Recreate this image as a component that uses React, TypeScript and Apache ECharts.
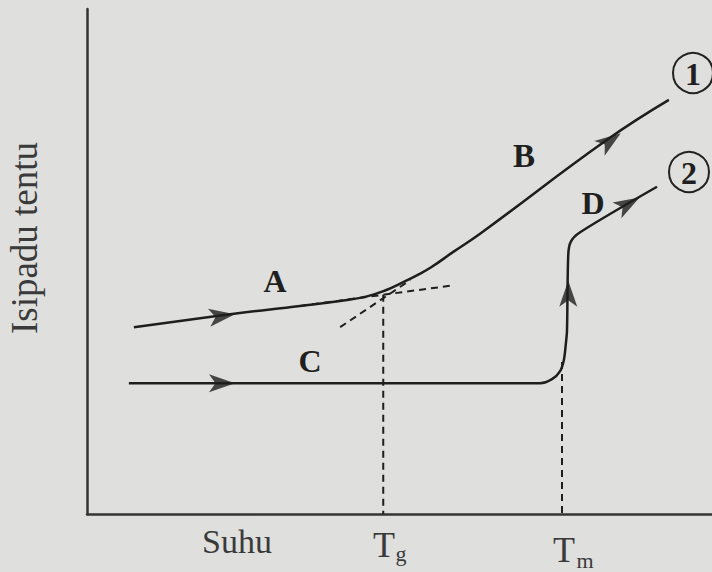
import React, { useEffect, useRef } from "react";
import * as echarts from "echarts";

// Curve 1: A (glass) -> B (rubbery/liquid), amorphous path
const curveAB: number[][] = [
  [7.5, 37.0], [23.2, 39.6], [34.1, 41.2], [40.5, 42.2], [44.8, 43.1],
  [47.8, 44.3], [50.6, 45.9], [53.0, 47.4], [55.0, 48.8], [58.6, 51.9],
  [63.0, 55.6], [83.2, 74.1], [93.1, 82.0],
];
// Curve 2: C (crystalline) -> melting -> D (liquid)
const curveCD: number[][] = [
  [6.7, 25.9], [72.5, 25.9], [74.4, 26.7], [75.7, 28.3], [76.3, 30.5],
  [76.6, 33.5], [76.8, 36.4], [77.0, 51.3], [77.4, 53.9], [78.9, 55.8],
  [91.2, 64.8],
];
// Dashed tangent extensions meeting at Tg
const tangentA: number[][] = [[34.1, 41.2], [58.7, 45.3]];
const tangentB: number[][] = [[40.5, 37.0], [51.7, 46.3]];
// Dashed drops to the temperature axis
const tgDrop: number[][] = [[47.4, 43.4], [47.4, 0]];
const tmDrop: number[][] = [[76.0, 30.1], [76.0, 0]];
// Arrow heads along the curves
const arrowPos: number[][] = [[21.6, 39.2], [83.7, 73.9], [21.6, 25.9], [77.0, 43.6], [86.6, 61.4]];
const arrowAngle: number[] = [7.6, 35, 0, 90, 29.5];

const segmentLabels = ["A", "B", "C", "D"];
const pathLabels = ["1", "2"];
const yAxisTitle = "Isipadu tentu";
const xAxisTitle = "Suhu";
const tickMain = ["T", "T"];
const tickSub = ["g", "m"];

const INK = "#1e1e1e";
const SERIF = "'Liberation Serif', 'DejaVu Serif', serif";

function txt(x: number, y: number, text: string, size: number, bold: boolean, fill: string, extra: any = {}) {
  return {
    type: "text",
    x,
    y,
    silent: true,
    ...extra,
    style: {
      text,
      font: `${bold ? "bold " : ""}${size}px ${SERIF}`,
      fill,
      align: "center",
      verticalAlign: "middle",
      textAlign: "center",
      textVerticalAlign: "middle",
    },
  };
}

export default function App() {
  const ref = useRef<HTMLDivElement>(null);
  useEffect(() => {
    if (!ref.current) return;
    const chart = echarts.init(ref.current, undefined, { renderer: "svg" });
    const arrowPath = "path://M0,0 L24,8 L0,16 L6,8 Z";
    const dashed = { color: INK, width: 2, type: [7, 5] as any };
    const option: any = {
      animation: false,
      backgroundColor: "#dfdfdd",
      grid: { left: 87, right: 0, top: 9, bottom: 58 },
      xAxis: {
        type: "value", min: 0, max: 100,
        axisLine: { show: true, lineStyle: { color: "#353535", width: 2.5 } },
        axisTick: { show: false }, axisLabel: { show: false }, splitLine: { show: false },
      },
      yAxis: {
        type: "value", min: 0, max: 100,
        axisLine: { show: true, lineStyle: { color: "#353535", width: 2.5 } },
        axisTick: { show: false }, axisLabel: { show: false }, splitLine: { show: false },
      },
      series: [
        { type: "line", data: curveAB, smooth: 0.45, showSymbol: false, lineStyle: { color: INK, width: 2.5 } },
        { type: "line", data: curveCD, smooth: 0.3, showSymbol: false, lineStyle: { color: INK, width: 2.5 } },
        { type: "line", data: tangentA, showSymbol: false, lineStyle: dashed },
        { type: "line", data: tangentB, showSymbol: false, lineStyle: dashed },
        { type: "line", data: tgDrop, showSymbol: false, lineStyle: dashed },
        { type: "line", data: tmDrop, showSymbol: false, lineStyle: dashed },
        {
          type: "scatter",
          symbol: arrowPath,
          symbolSize: [26, 18],
          itemStyle: { color: INK },
          data: arrowPos.map((p, i) => ({ value: p, symbolRotate: arrowAngle[i] })),
        },
      ],
      graphic: [
        txt(275, 281, segmentLabels[0], 32, true, "#1f1f1f"),
        txt(524, 156, segmentLabels[1], 33, true, "#1f1f1f"),
        txt(310, 361, segmentLabels[2], 32, true, "#1f1f1f"),
        txt(593, 203, segmentLabels[3], 32, true, "#1f1f1f"),
        { type: "circle", shape: { cx: 693, cy: 73, r: 20 }, style: { fill: "none", stroke: "#222", lineWidth: 2 } },
        { type: "circle", shape: { cx: 689, cy: 172, r: 20 }, style: { fill: "none", stroke: "#222", lineWidth: 2 } },
        txt(693, 74, pathLabels[0], 32, true, "#1f1f1f"),
        txt(689, 173, pathLabels[1], 32, true, "#1f1f1f"),
        txt(24, 238, yAxisTitle, 37, false, "#3a3a3a", { rotation: Math.PI / 2 }),
        txt(237, 541, xAxisTitle, 34, false, "#3a3a3a"),
        txt(384, 545, tickMain[0], 36, false, "#3a3a3a"),
        txt(401, 553, tickSub[0], 22, false, "#3a3a3a"),
        txt(564, 550, tickMain[1], 36, false, "#3a3a3a"),
        txt(585, 560, tickSub[1], 22, false, "#3a3a3a"),
      ],
    };
    chart.setOption(option);
    return () => chart.dispose();
  }, []);
  return <div ref={ref} style={{ position: "fixed", left: 0, top: 0, width: 712, height: 572 }} />;
}
